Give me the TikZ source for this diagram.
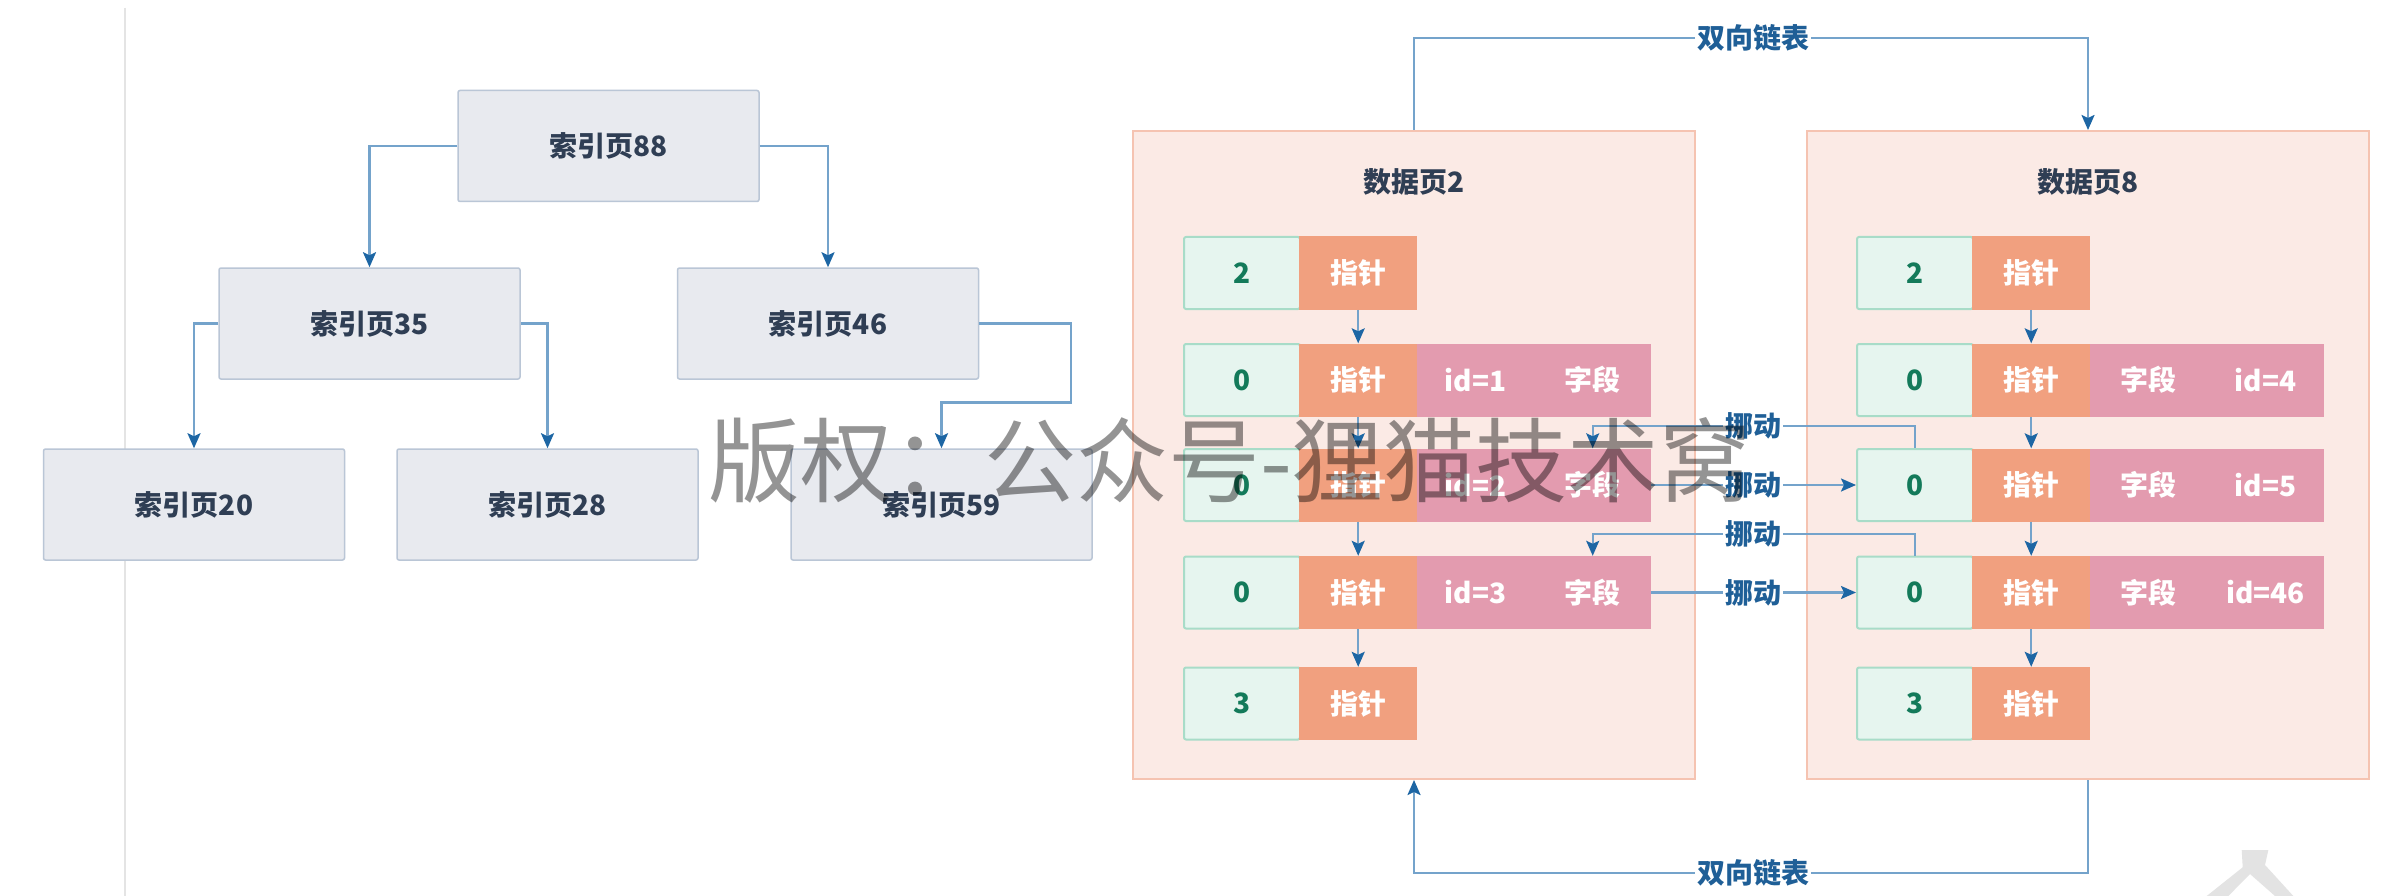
\documentclass[tikz,border=0pt]{standalone}
\usepackage{fontspec}
\newfontfamily\cjk{Noto Sans CJK SC}
\newfontfamily\cjkw{Noto Sans CJK SC}
\usetikzlibrary{arrows.meta}
\definecolor{idxfill}{HTML}{E8EAEF}
\definecolor{idxline}{HTML}{BAC6D6}
\definecolor{idxtext}{HTML}{2F3E54}
\definecolor{pgfill}{HTML}{FBEAE5}
\definecolor{pgline}{HTML}{F5C3B1}
\definecolor{numfill}{HTML}{E6F5EF}
\definecolor{numline}{HTML}{A8DCC8}
\definecolor{numtext}{HTML}{137A5A}
\definecolor{ptrfill}{HTML}{F1A07F}
\definecolor{fldfill}{HTML}{E39BAF}
\definecolor{linkline}{HTML}{74A3CB}
\definecolor{linktip}{HTML}{1D66A4}
\definecolor{linktext}{HTML}{1F5F97}
\definecolor{sepline}{HTML}{E4E4E4}
\definecolor{wmcorner}{HTML}{E3E3E3}

\tikzset{
  txt/.style={font=\cjk\bfseries\fontsize{28}{28}\selectfont},
  idx/.style={txt, draw=idxline, line width=1.5pt, fill=idxfill, rounded corners=2pt,
    minimum width=301pt, minimum height=111pt, inner sep=0pt, text=idxtext},
  pagebox/.style={draw=pgline, line width=2pt, fill=pgfill,
    minimum width=562pt, minimum height=648pt, inner sep=0pt},
  ttl/.style={txt, text=idxtext, inner sep=0pt},
  numc/.style={txt, draw=numline, line width=2pt, fill=numfill, rounded corners=2pt,
    minimum width=116pt, minimum height=72pt, inner sep=0pt, text=numtext, anchor=west},
  ptrc/.style={txt, fill=ptrfill, minimum width=118pt, minimum height=73pt,
    inner sep=0pt, text=white, anchor=west},
  fldc/.style={txt, fill=fldfill, minimum width=117pt, minimum height=73pt,
    inner sep=0pt, text=white, anchor=west},
  link/.style={draw=linkline, line width=2.2pt,
    -{Stealth[length=15pt,width=13pt,inset=3pt,color=linktip]}},
  plainlink/.style={draw=linkline, line width=2.2pt},
  lbl/.style={txt, fill=white, inner sep=2pt, text=linktext},
}

% short row: prefix, x, y, number
\newcommand{\mkrowA}[4]{%
  \node[numc] (#1a) at (#2,#3) {#4};
  \node[ptrc] (#1b) at (#2+116,#3) {指针};
}
% long row: prefix, x, y, number, field c, field d
\newcommand{\mkrowB}[6]{%
  \node[numc] (#1a) at (#2,#3) {#4};
  \node[ptrc] (#1b) at (#2+116,#3) {指针};
  \node[fldc] (#1c) at (#2+234,#3) {#5};
  \node[fldc] (#1d) at (#2+351,#3) {#6};
}

\begin{document}
\begin{tikzpicture}[x=1pt,y=-1pt]
\useasboundingbox (0,0) rectangle (2396,896);
\fill[white] (0,0) rectangle (2396,896);
\draw[sepline, line width=1.5pt] (125,8) -- (125,896);

% ---------- index tree ----------
\node[idx] (i88) at (608.5,146) {索引页88};
\node[idx] (i35) at (369.5,323.5) {索引页35};
\node[idx] (i46) at (828,323.5) {索引页46};
\node[idx] (i20) at (194,504.5) {索引页20};
\node[idx] (i28) at (547.5,504.5) {索引页28};
\node[idx] (i59) at (941.5,504.5) {索引页59};
\coordinate (k46) at (1071,402.5);

\draw[link] (i88.west) -| (i35.north);
\draw[link] (i88.east) -| (i46.north);
\draw[link] (i35.west) -| (i20.north);
\draw[link] (i35.east) -| (i28.north);
\draw[link] (i46.east) -| (k46) -| (i59.north);

% ---------- data pages ----------
\node[pagebox] (dp2) at (1414,455) {};
\node[pagebox] (dp8) at (2088,455) {};
\node[ttl] (t2) at (1414,182) {数据页2};
\node[ttl] (t8) at (2088,182) {数据页8};

\mkrowA{pa}{1183}{273}{2}
\mkrowB{pb}{1183}{380}{0}{id=1}{字段}
\mkrowB{pc}{1183}{485}{0}{id=2}{字段}
\mkrowB{pd}{1183}{592.5}{0}{id=3}{字段}
\mkrowA{pe}{1183}{703.5}{3}

\mkrowA{qa}{1856}{273}{2}
\mkrowB{qb}{1856}{380}{0}{字段}{id=4}
\mkrowB{qc}{1856}{485}{0}{字段}{id=5}
\mkrowB{qd}{1856}{592.5}{0}{字段}{id=46}
\mkrowA{qe}{1856}{703.5}{3}

\draw[link] (pab.south) -- (pbb.north);
\draw[link] (pbb.south) -- (pcb.north);
\draw[link] (pcb.south) -- (pdb.north);
\draw[link] (pdb.south) -- (peb.north);
\draw[link] (qab.south) -- (qbb.north);
\draw[link] (qbb.south) -- (qcb.north);
\draw[link] (qcb.south) -- (qdb.north);
\draw[link] (qdb.south) -- (qeb.north);

% double linked list
\node[lbl] (dl1) at (1753,38) {双向链表};
\node[lbl] (dl2) at (1753,873) {双向链表};
\draw[plainlink] (dp2.north) |- (dl1);
\draw[link] (dl1) -| (dp8.north);
\draw[plainlink] (dp8.south) |- (dl2);
\draw[link] (dl2) -| (dp2.south);

% moves
\node[lbl] (m1) at (1753,426) {挪动};
\node[lbl] (m2) at (1753,485) {挪动};
\node[lbl] (m3) at (1753,534) {挪动};
\node[lbl] (m4) at (1753,592.5) {挪动};
\draw[plainlink] (qca.north) |- (m1);
\draw[link] (m1) -| (pcd.north);
\draw[plainlink] (pcd.east) -- (m2);
\draw[link] (m2) -- (qca.west);
\draw[plainlink] (qda.north) |- (m3);
\draw[link] (m3) -| (pdd.north);
\draw[plainlink] (pdd.east) -- (m4);
\draw[link] (m4) -- (qda.west);

% watermark
\node[text=black, opacity=0.42, font=\cjkw\fontsize{92}{92}\selectfont, inner sep=0pt]
  (wm) at (1230,460) {版权：公众号-狸猫技术窝};
\fill[wmcorner] (2241.7,850) -- (2268.3,850) -- (2265,865) -- (2293.3,896) -- (2275,896)
  -- (2250,874) -- (2228.3,896) -- (2206.7,896) -- (2242.7,867.3) -- cycle;
\end{tikzpicture}
\end{document}
